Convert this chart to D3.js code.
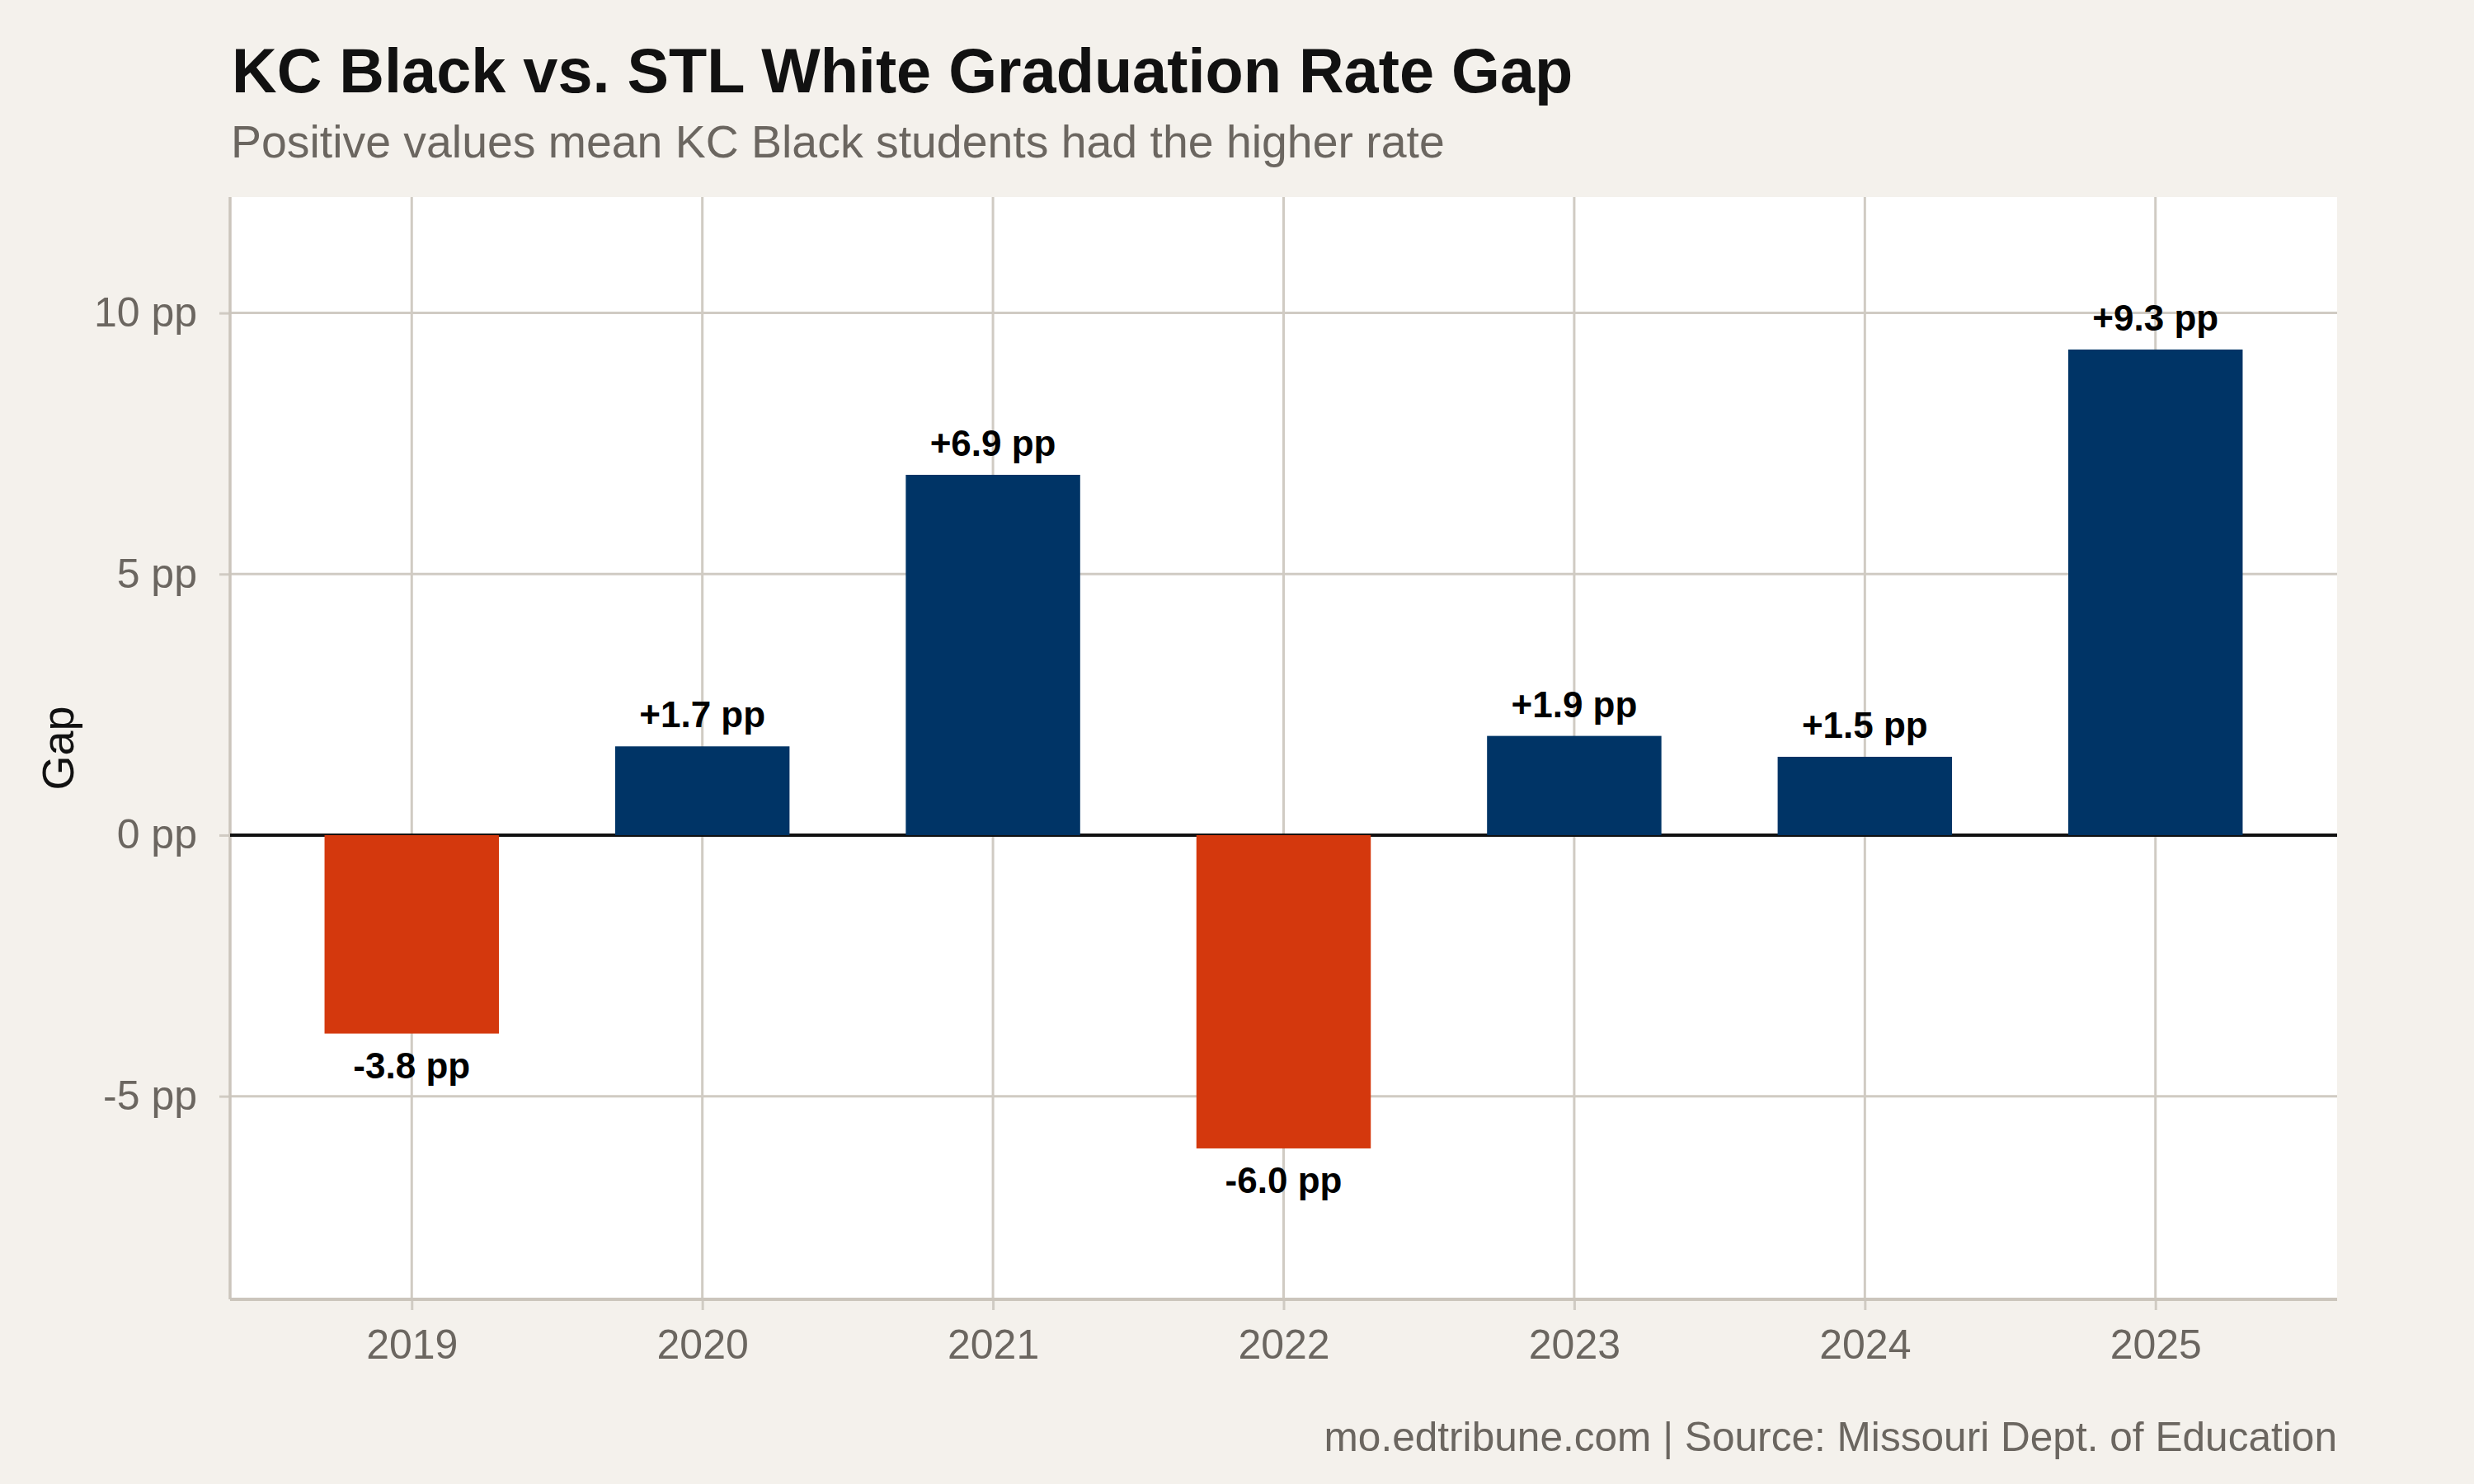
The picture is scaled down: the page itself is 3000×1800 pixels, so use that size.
<!DOCTYPE html>
<html>
<head>
<meta charset="utf-8">
<script src="https://cdn.jsdelivr.net/npm/d3@7"></script>
<style>
  body { margin: 0; background: #f4f1ec; }
  svg { display: block; font-family: "Liberation Sans", Arial, Helvetica, sans-serif; }
</style>
</head>
<body>
<script>
const years = ["2019", "2020", "2021", "2022", "2023", "2024", "2025"];
const gaps = [-3.8, 1.7, 6.9, -6.0, 1.9, 1.5, 9.3];
const yTicks = [-5, 0, 5, 10];

const W = 3000, H = 1800;
const margin = { top: 239, right: 166, bottom: 224, left: 279 };
const innerW = W - margin.left - margin.right;
const innerH = H - margin.top - margin.bottom;

const bg = "#f4f1ec", gridColor = "#d0cbc3", axisColor = "#cbc5bc", textGray = "#6b6660";
const posColor = "#003466", negColor = "#d4380d";

const svg = d3.select("body").append("svg")
  .attr("width", W).attr("height", H);

svg.append("rect").attr("width", W).attr("height", H).attr("fill", bg);

const g = svg.append("g").attr("transform", `translate(${margin.left},${margin.top})`);

const x = d3.scalePoint().domain(years).range([0, innerW]).padding(0.625);
const y = d3.scaleLinear().domain([-8.89, 12.22]).range([innerH, 0]);
const barW = x.step() * 0.6;

// panel
g.append("rect").attr("width", innerW).attr("height", innerH).attr("fill", "#ffffff");

// grid
g.append("g").selectAll("line")
  .data(yTicks)
  .join("line")
    .attr("x1", 0).attr("x2", innerW)
    .attr("y1", d => y(d)).attr("y2", d => y(d))
    .attr("stroke", gridColor).attr("stroke-width", 3);

g.append("g").selectAll("line")
  .data(years)
  .join("line")
    .attr("x1", d => x(d)).attr("x2", d => x(d))
    .attr("y1", 0).attr("y2", innerH)
    .attr("stroke", gridColor).attr("stroke-width", 3);

// axes
const yAxis = g.append("g")
  .call(d3.axisLeft(y).tickValues(yTicks).tickFormat(d => `${d} pp`).tickSize(13).tickPadding(27));
const xAxis = g.append("g").attr("transform", `translate(0,${innerH})`)
  .call(d3.axisBottom(x).tickSize(13).tickPadding(23));

[yAxis, xAxis].forEach(a => {
  a.select(".domain").remove();
  a.selectAll(".tick line").attr("stroke", gridColor).attr("stroke-width", 3);
  a.selectAll(".tick text")
    .attr("fill", textGray)
    .attr("font-size", 50)
    .attr("font-family", "Liberation Sans, Arial, sans-serif");
});

// axis lines left & bottom
g.append("line").attr("x1", 0).attr("x2", 0).attr("y1", 0).attr("y2", innerH)
  .attr("stroke", axisColor).attr("stroke-width", 3.5);
g.append("line").attr("x1", 0).attr("x2", innerW).attr("y1", innerH).attr("y2", innerH)
  .attr("stroke", axisColor).attr("stroke-width", 4);

// zero line
g.append("line")
  .attr("x1", 0).attr("x2", innerW)
  .attr("y1", y(0)).attr("y2", y(0))
  .attr("stroke", "#111111").attr("stroke-width", 4);

// bars
g.append("g").selectAll("rect")
  .data(years)
  .join("rect")
    .attr("x", (d) => x(d) - barW / 2)
    .attr("width", barW)
    .attr("y", (d, i) => y(Math.max(0, gaps[i])))
    .attr("height", (d, i) => Math.abs(y(gaps[i]) - y(0)))
    .attr("fill", (d, i) => gaps[i] >= 0 ? posColor : negColor);

// value labels
g.append("g").selectAll("text")
  .data(years)
  .join("text")
    .attr("x", d => x(d))
    .attr("y", (d, i) => gaps[i] >= 0 ? y(gaps[i]) - 23 : y(gaps[i]) + 54)
    .attr("text-anchor", "middle")
    .attr("font-size", 44)
    .attr("font-weight", "bold")
    .attr("fill", "#000")
    .text((d, i) => `${gaps[i] >= 0 ? "+" : ""}${gaps[i].toFixed(1)} pp`);

// y axis title
svg.append("text")
  .attr("transform", `translate(89,${margin.top + innerH / 2}) rotate(-90)`)
  .attr("text-anchor", "middle")
  .attr("font-size", 54)
  .attr("fill", "#111")
  .text("Gap");

// title / subtitle / caption
svg.append("text")
  .attr("x", margin.left + 2).attr("y", 112)
  .attr("font-size", 75.7).attr("font-weight", "bold").attr("fill", "#111")
  .text("KC Black vs. STL White Graduation Rate Gap");

svg.append("text")
  .attr("x", margin.left + 1).attr("y", 191)
  .attr("font-size", 55.4).attr("fill", textGray)
  .text("Positive values mean KC Black students had the higher rate");

svg.append("text")
  .attr("x", margin.left + innerW).attr("y", 1760)
  .attr("text-anchor", "end")
  .attr("font-size", 49.6).attr("fill", textGray)
  .text("mo.edtribune.com | Source: Missouri Dept. of Education");
</script>
</body>
</html>
